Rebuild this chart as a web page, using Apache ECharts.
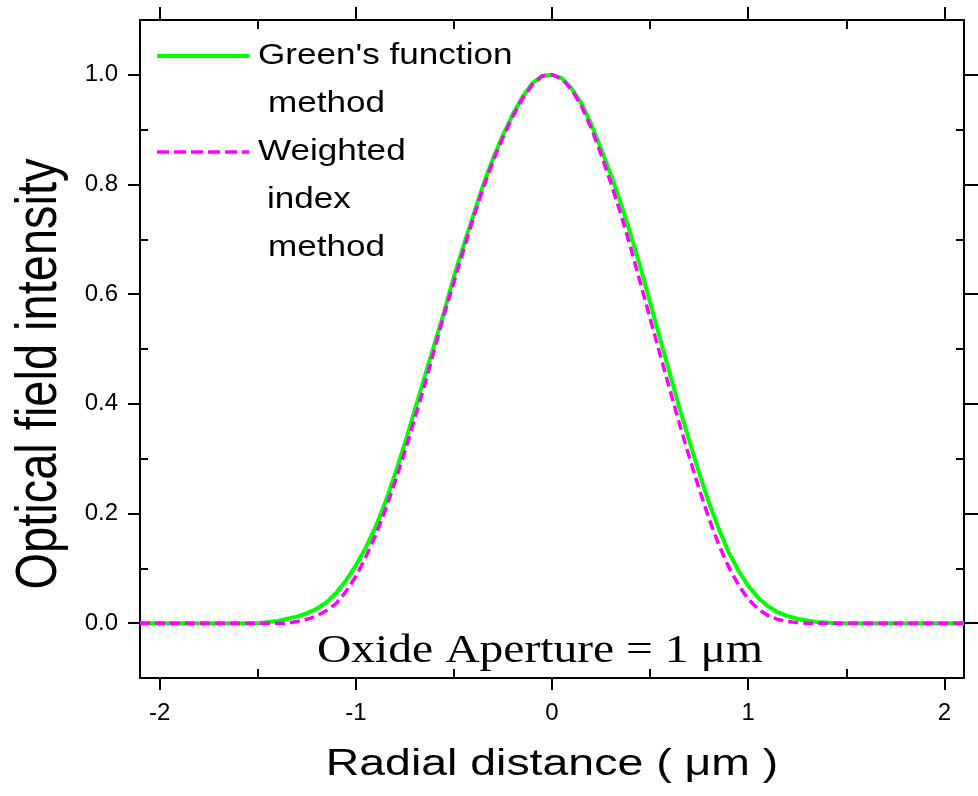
<!DOCTYPE html>
<html>
<head>
<meta charset="utf-8">
<script src="https://cdn.jsdelivr.net/npm/echarts@6/dist/echarts.min.js"></script>
<style>
  html, body { margin: 0; padding: 0; background: #fff; }
  #chart { width: 978px; height: 796px; }
</style>
</head>
<body>
<div id="chart"></div>
<script>
// Radial positions (um) and normalised field intensity, Green's function method
const radialGreen = [-2.1, -1.5, -1.45, -1.4, -1.35, -1.3, -1.25, -1.2, -1.15, -1.1, -1.05, -1.0,
  -0.95, -0.9, -0.85, -0.8, -0.75, -0.7, -0.65, -0.6, -0.55, -0.5, -0.45, -0.4, -0.35, -0.3,
  -0.25, -0.2, -0.15, -0.1, -0.05, 0, 0.05, 0.1, 0.15, 0.2, 0.25, 0.3, 0.35, 0.4, 0.45, 0.5,
  0.55, 0.6, 0.65, 0.7, 0.75, 0.8, 0.85, 0.9, 0.95, 1.0, 1.05, 1.1, 1.15, 1.2, 1.25, 1.3,
  1.35, 1.4, 1.45, 2.1];
const intensityGreen = [0, 0, 0.002, 0.004, 0.008, 0.012, 0.018, 0.026, 0.038, 0.055, 0.078, 0.105,
  0.137, 0.175, 0.22, 0.272, 0.328, 0.388, 0.448, 0.508, 0.568, 0.632, 0.69, 0.745, 0.8, 0.848,
  0.89, 0.928, 0.96, 0.985, 0.998, 1.0, 0.994, 0.975, 0.948, 0.91, 0.865, 0.818, 0.767, 0.71, 0.65, 0.585,
  0.52, 0.456, 0.392, 0.333, 0.274, 0.22, 0.172, 0.13, 0.096, 0.068, 0.047, 0.031, 0.02, 0.013, 0.008, 0.005,
  0.002, 0.001, 0, 0];

// Weighted index method
const radialWeighted = [-2.1, -1.35, -1.3, -1.25, -1.2, -1.15, -1.1, -1.05, -1.0, -0.95, -0.9,
  -0.85, -0.8, -0.75, -0.7, -0.65, -0.6, -0.55, -0.5, -0.45, -0.4, -0.35, -0.3, -0.25, -0.2,
  -0.15, -0.1, -0.05, 0, 0.05, 0.1, 0.15, 0.2, 0.25, 0.3, 0.35, 0.4, 0.45, 0.5, 0.55, 0.6,
  0.65, 0.7, 0.75, 0.8, 0.85, 0.9, 0.95, 1.0, 1.05, 1.1, 1.15, 1.2, 1.25, 1.3, 2.1];
const intensityWeighted = [0, 0, 0.003, 0.007, 0.013, 0.023, 0.036, 0.058, 0.085, 0.12, 0.16,
  0.206, 0.258, 0.313, 0.373, 0.433, 0.498, 0.563, 0.622, 0.681, 0.74, 0.794, 0.843, 0.886, 0.924,
  0.957, 0.982, 0.998, 1.0, 0.993, 0.973, 0.943, 0.903, 0.855, 0.803, 0.747, 0.686, 0.621, 0.556, 0.491, 0.427,
  0.363, 0.303, 0.245, 0.191, 0.143, 0.103, 0.07, 0.044, 0.026, 0.014, 0.007, 0.003, 0.001, 0, 0];

// Tick positions
const xMajorTicks = [-2, -1, 0, 1, 2];
const xMinorTicks = [-1.5, -0.5, 0.5, 1.5];
const yMajorTicks = [0, 0.2, 0.4, 0.6, 0.8, 1.0];
const yMinorTicks = [0.1, 0.3, 0.5, 0.7, 0.9];

const seriesNames = ["Green's function method", "Weighted index method"];

const X_MIN = -2.1, X_MAX = 2.1, Y_MIN = -0.1, Y_MAX = 1.1;
const SANS = '"Liberation Sans", Arial, Helvetica, sans-serif';
const SERIF = '"Liberation Serif", "Times New Roman", serif';

function frameAxis(kind, position, ticks, inside, len, withLine, withLabel) {
  const axis = {
    type: 'value',
    position: position,
    min: kind === 'x' ? X_MIN : Y_MIN,
    max: kind === 'x' ? X_MAX : Y_MAX,
    splitLine: { show: false },
    axisLine: { show: withLine, onZero: false, lineStyle: { color: '#000', width: 2 } },
    axisTick: {
      show: true, inside: inside, length: len, customValues: ticks,
      lineStyle: { color: '#000', width: 2 }
    },
    axisLabel: { show: false },
    axisPointer: { show: false },
    silent: true
  };
  if (withLabel) {
    axis.axisLabel = {
      show: true,
      customValues: ticks,
      color: '#000',
      fontFamily: SANS,
      fontSize: 24,
      margin: kind === 'x' ? 23 : 22,
      formatter: kind === 'x' ? (v) => String(Math.round(v)) : (v) => v.toFixed(1)
    };
  }
  return axis;
}

const chart = echarts.init(document.getElementById('chart'), null, { renderer: 'canvas' });

const option = {
  backgroundColor: '#fff',
  animation: false,
  grid: { left: 140, top: 20, right: 14, bottom: 118, outerBoundsMode: 'none', containLabel: false },
  xAxis: [
    frameAxis('x', 'bottom', xMajorTicks, false, 12, true, true),
    frameAxis('x', 'bottom', xMinorTicks, true, 9, false, false),
    frameAxis('x', 'top', xMajorTicks, false, 13, true, false),
    frameAxis('x', 'top', xMinorTicks, true, 9, false, false)
  ],
  yAxis: [
    frameAxis('y', 'left', yMajorTicks, false, 12, true, true),
    frameAxis('y', 'left', yMinorTicks, true, 8, false, false),
    frameAxis('y', 'right', yMajorTicks, false, 14, true, false),
    frameAxis('y', 'right', yMinorTicks, true, 8, false, false)
  ],
  series: [
    {
      name: seriesNames[0],
      type: 'line',
      xAxisIndex: 0, yAxisIndex: 0,
      data: radialGreen.map((x, i) => [x, intensityGreen[i]]),
      showSymbol: false,
      lineStyle: { color: '#00ff00', width: 4 },
      z: 3
    },
    {
      name: seriesNames[1],
      type: 'line',
      xAxisIndex: 0, yAxisIndex: 0,
      data: radialWeighted.map((x, i) => [x, intensityWeighted[i]]),
      showSymbol: false,
      lineStyle: { color: '#ff00ff', width: 3.5, type: [10, 5] },
      z: 4
    }
  ],
  graphic: [
    // key samples and labels
    { type: 'line', shape: { x1: 157, y1: 56, x2: 249, y2: 56 }, style: { stroke: '#00ff00', lineWidth: 4 } },
    { type: 'text', x: 258, y: 56, scaleX: 1.17,
      style: { text: "Green's function", font: '30px ' + SANS, fill: '#000', textVerticalAlign: 'middle', verticalAlign: 'middle' } },
    { type: 'text', x: 268, y: 104, scaleX: 1.17,
      style: { text: 'method', font: '30px ' + SANS, fill: '#000', textVerticalAlign: 'middle', verticalAlign: 'middle' } },
    { type: 'line', shape: { x1: 157, y1: 152, x2: 249, y2: 152 }, style: { stroke: '#ff00ff', lineWidth: 3.5, lineDash: [12, 5] } },
    { type: 'text', x: 258, y: 152, scaleX: 1.17,
      style: { text: 'Weighted', font: '30px ' + SANS, fill: '#000', textVerticalAlign: 'middle', verticalAlign: 'middle' } },
    { type: 'text', x: 267, y: 200, scaleX: 1.17,
      style: { text: 'index', font: '30px ' + SANS, fill: '#000', textVerticalAlign: 'middle', verticalAlign: 'middle' } },
    { type: 'text', x: 268, y: 248, scaleX: 1.17,
      style: { text: 'method', font: '30px ' + SANS, fill: '#000', textVerticalAlign: 'middle', verticalAlign: 'middle' } },
    // annotation inside the plot
    { type: 'text', x: 540, y: 652, scaleX: 1.22,
      style: { text: 'Oxide Aperture = 1 \u03bcm', font: '39px ' + SERIF, fill: '#000', textAlign: 'center', align: 'center', textVerticalAlign: 'middle', verticalAlign: 'middle' } },
    // axis titles
    { type: 'text', x: 552, y: 765, scaleX: 1.29,
      style: { text: 'Radial distance ( \u03bcm )', font: '36px ' + SANS, fill: '#000', textAlign: 'center', align: 'center', textVerticalAlign: 'middle', verticalAlign: 'middle' } },
    { type: 'text', x: 40, y: 374, rotation: Math.PI / 2, scaleY: 1.24,
      style: { text: 'Optical field intensity', font: '47px ' + SANS, fill: '#000', textAlign: 'center', align: 'center', textVerticalAlign: 'middle', verticalAlign: 'middle' } }
  ]
};

chart.setOption(option);
</script>
</body>
</html>
